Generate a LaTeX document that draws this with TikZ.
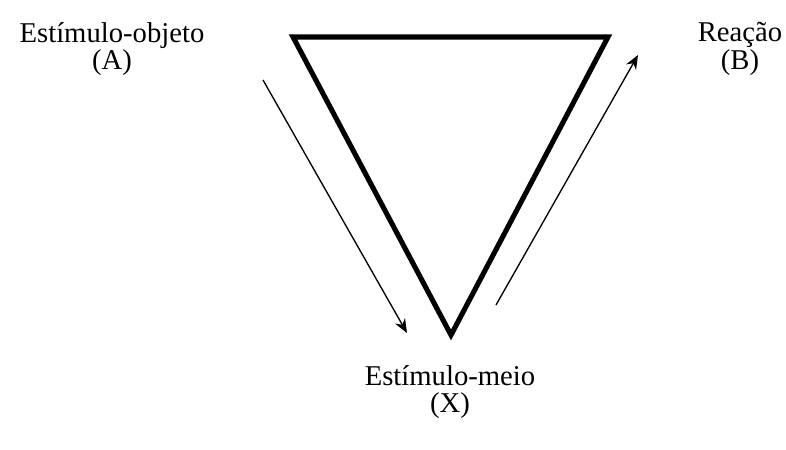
\documentclass[tikz,border=0pt]{standalone}
\usepackage{fontspec}
\setmainfont{Liberation Serif}
\usetikzlibrary{arrows.meta}

\begin{document}
\begin{tikzpicture}[x=0.75pt,y=-0.75pt,>={Stealth[length=10.5pt,width=8.5pt]},
  font=\fontsize{21.5}{20.5}\selectfont]
  \useasboundingbox (0,0) rectangle (786,450);
  % triangle
  \coordinate (tl) at (293,37);
  \coordinate (tr) at (608,37);
  \coordinate (bot) at (451,335);
  \draw[line width=3.8pt,line join=miter] (tl)--(tr)--(bot)--cycle;
  % arrows
  \coordinate (a1) at (263,80);
  \coordinate (a2) at (407,333);
  \coordinate (b1) at (496,305);
  \coordinate (b2) at (638,55);
  \draw[->,line width=1pt] (a1)--(a2);
  \draw[->,line width=1pt] (b1)--(b2);
  % labels
  \node[align=center] (objA) at (112,49) {Estímulo-objeto\\(A)};
  \node[align=center] (reacB) at (740,49) {Reação\\(B)};
  \node[align=center] (meioX) at (450,392) {Estímulo-meio\\(X)};
\end{tikzpicture}
\end{document}
